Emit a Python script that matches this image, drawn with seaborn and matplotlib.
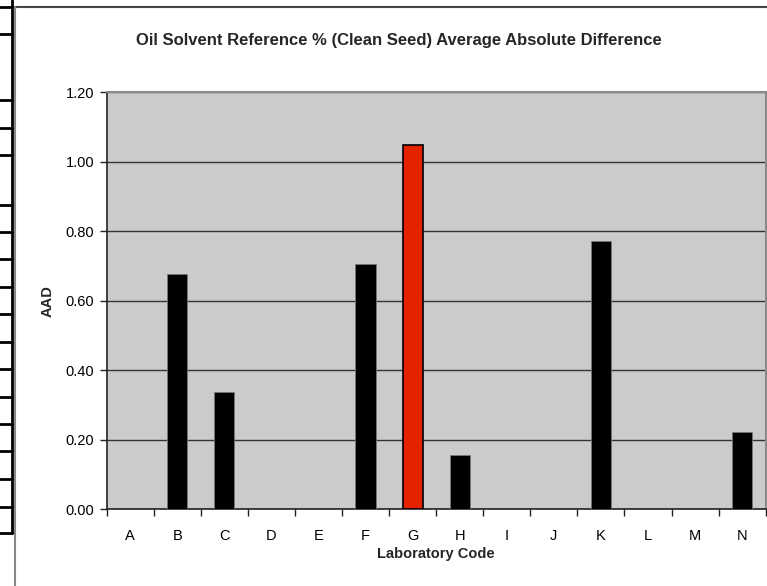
import matplotlib
matplotlib.use("Agg")
import matplotlib.pyplot as plt
from matplotlib.lines import Line2D
import seaborn as sns
import pandas as pd

# ---- data ----
labs = ["A", "B", "C", "D", "E", "F", "G", "H", "I", "J", "K", "L", "M", "N"]
aad = [0.0, 0.677, 0.338, 0.0, 0.0, 0.706, 1.048, 0.157, 0.0, 0.0, 0.771, 0.0, 0.0, 0.221]
highlight_lab = "G"
yticks = [0.0, 0.2, 0.4, 0.6, 0.8, 1.0, 1.2]

title = "Oil Solvent Reference % (Clean Seed) Average Absolute Difference"
xlabel = "Laboratory Code"
ylabel = "AAD"

# ---- style ----
sns.set_theme(style="white")
plt.rcParams["font.family"] = ["Liberation Sans", "DejaVu Sans"]

W, H = 767, 586
fig = plt.figure(figsize=(W / 100, H / 100), dpi=100)
ax = fig.add_axes([106.7 / W, 1 - 509.3 / H, (765.7 - 106.7) / W, (509.3 - 92) / H])
ax.set_facecolor("#cbcbcb")

df = pd.DataFrame({"lab": labs, "aad": aad})
colors = {l: ("#e52200" if l == highlight_lab else "black") for l in labs}
sns.barplot(data=df, x="lab", y="aad", hue="lab", palette=colors, legend=False,
            width=0.43, saturation=1, ax=ax, zorder=3)
for patch, l in zip(ax.patches, labs):
    if l == highlight_lab:
        patch.set_edgecolor("black")
        patch.set_linewidth(1.2)
    else:
        patch.set_edgecolor("#777777")
        patch.set_linewidth(0.6)

ax.set_xlim(-0.5, len(labs) - 0.5)
ax.set_ylim(0, 1.2)
ax.set_yticks(yticks)
ax.set_yticklabels([f"{v:.2f}" for v in yticks])
ax.yaxis.grid(True, color="#333333", linewidth=1.0, zorder=1)
ax.set_axisbelow(True)

# x ticks between categories
ax.set_xticks([i - 0.5 for i in range(len(labs) + 1)], minor=True)
ax.tick_params(axis="x", which="minor", direction="out", length=5, width=1, color="#222222")
ax.tick_params(axis="x", which="major", length=0, pad=14, labelsize=10.5, colors="black")
ax.tick_params(axis="y", which="major", direction="out", length=5, width=1, color="#222222",
               pad=4, labelsize=10.5, colors="black")
ax.tick_params(left=True, bottom=True, which="both")

for side in ["left", "bottom"]:
    ax.spines[side].set_color("#222222")
    ax.spines[side].set_linewidth(1.2)
for side in ["top", "right"]:
    ax.spines[side].set_color("#8a8a8a")
    ax.spines[side].set_linewidth(1.5)

ax.set_xlabel(xlabel, fontsize=10.5, fontweight="bold", labelpad=3)
ax.set_ylabel(ylabel, fontsize=10.5, fontweight="bold", labelpad=8)

fig.text(399 / W, 1 - 40 / H, title, ha="center", va="center", fontsize=12, fontweight="bold")

# ---- chart frame and clipped table on the left ----
def px_line(x0, y0, x1, y1, **kw):
    fig.add_artist(Line2D([x0 / W, x1 / W], [1 - y0 / H, 1 - y1 / H],
                          transform=fig.transFigure, **kw))

px_line(14.5, 7, W, 7, color="#444444", lw=1.5)
px_line(14.5, 7, 14.5, H, color="#888888", lw=1.5)
px_line(11.5, 0, 11.5, 533, color="black", lw=2)
row_lines = [7, 34, 100, 128, 155, 205, 232, 259, 287, 314, 342, 369, 397, 424, 451, 479, 507, 533]
for y in row_lines:
    px_line(0, y, 12, y, color="black", lw=2)

fig.savefig("out.png", dpi=100)
